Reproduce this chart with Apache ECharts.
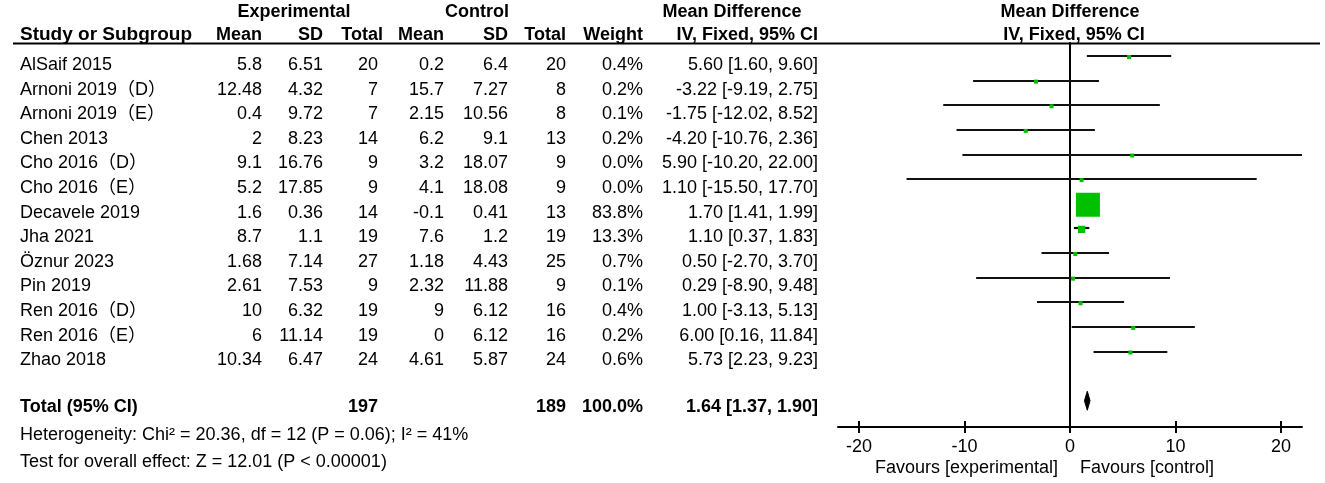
<!DOCTYPE html>
<html lang="en">
<head>
<meta charset="UTF-8">
<title>Forest plot - Mean Difference</title>
<script src="https://cdn.jsdelivr.net/npm/echarts@6/dist/echarts.min.js"></script>
<style>
    body { margin: 0; background: #fff; }
    #chart { width: 1325px; height: 483px; }
</style>
</head>
<body>
<div id="chart"></div>
<script>
// ---- data ----
const studies = ['AlSaif 2015', 'Arnoni 2019（D）', 'Arnoni 2019（E）', 'Chen 2013', 'Cho 2016（D）', 'Cho 2016（E）',
    'Decavele 2019', 'Jha 2021', 'Öznur 2023', 'Pin 2019', 'Ren 2016（D）', 'Ren 2016（E）', 'Zhao 2018'];
const expMean = [5.8, 12.48, 0.4, 2, 9.1, 5.2, 1.6, 8.7, 1.68, 2.61, 10, 6, 10.34];
const expSD   = [6.51, 4.32, 9.72, 8.23, 16.76, 17.85, 0.36, 1.1, 7.14, 7.53, 6.32, 11.14, 6.47];
const expN    = [20, 7, 7, 14, 9, 9, 14, 19, 27, 9, 19, 19, 24];
const ctlMean = [0.2, 15.7, 2.15, 6.2, 3.2, 4.1, -0.1, 7.6, 1.18, 2.32, 9, 0, 4.61];
const ctlSD   = [6.4, 7.27, 10.56, 9.1, 18.07, 18.08, 0.41, 1.2, 4.43, 11.88, 6.12, 6.12, 5.87];
const ctlN    = [20, 8, 8, 13, 9, 9, 13, 19, 25, 9, 16, 16, 24];
const weight  = [0.4, 0.2, 0.1, 0.2, 0.0, 0.0, 83.8, 13.3, 0.7, 0.1, 0.4, 0.2, 0.6];
const md      = [5.60, -3.22, -1.75, -4.20, 5.90, 1.10, 1.70, 1.10, 0.50, 0.29, 1.00, 6.00, 5.73];
const ciLow   = [1.60, -9.19, -12.02, -10.76, -10.20, -15.50, 1.41, 0.37, -2.70, -8.90, -3.13, 0.16, 2.23];
const ciHigh  = [9.60, 2.75, 8.52, 2.36, 22.00, 17.70, 1.99, 1.83, 3.70, 9.48, 5.13, 11.84, 9.23];

const totalExpN = 197, totalCtlN = 189, totalWeight = 100.0;
const totalMD = 1.64, totalLow = 1.37, totalHigh = 1.90;
const heterogeneity = 'Heterogeneity: Chi² = 20.36, df = 12 (P = 0.06); I² = 41%';
const overallEffect = 'Test for overall effect: Z = 12.01 (P < 0.00001)';
const xTicks = [-20, -10, 0, 10, 20];
const totalRow = 14;

// ---- layout ----
const FONT = '"Liberation Sans", Arial, "Noto Sans CJK SC", sans-serif';
const FS = 18;
const INK = '#000';
const colRight = [262, 323, 378, 444, 508, 566, 643, 818];
const rowY = i => 65 + 24.6 * i;

function txt(x, y, text, align, bold, size) {
    return {
        type: 'text', silent: true,
        style: {
            x: x, y: y, text: text, fill: INK,
            font: (bold ? 'bold ' : '') + (size || FS) + 'px ' + FONT,
            textAlign: align || 'left', textVerticalAlign: 'middle'
        }
    };
}

const graphics = [];
// header
graphics.push(txt(294, 12, 'Experimental', 'center', true));
graphics.push(txt(477, 12, 'Control', 'center', true));
graphics.push(txt(732, 12, 'Mean Difference', 'center', true));
graphics.push(txt(1070, 12, 'Mean Difference', 'center', true));
graphics.push(txt(1074, 35, 'IV, Fixed, 95% CI', 'center', true));
graphics.push(txt(20, 35, 'Study or Subgroup', 'left', true, 19));
['Mean', 'SD', 'Total', 'Mean', 'SD', 'Total', 'Weight', 'IV, Fixed, 95% CI'].forEach((h, k) => {
    graphics.push(txt(k === 2 ? 383 : colRight[k], 35, h, 'right', true));
});
graphics.push({ type: 'line', silent: true, shape: { x1: 13, y1: 43.5, x2: 1320, y2: 43.5 },
    style: { stroke: INK, lineWidth: 2 } });

// study rows
studies.forEach((s, i) => {
    const y = rowY(i);
    const cells = [expMean[i], expSD[i], expN[i], ctlMean[i], ctlSD[i], ctlN[i],
        weight[i].toFixed(1) + '%',
        md[i].toFixed(2) + ' [' + ciLow[i].toFixed(2) + ', ' + ciHigh[i].toFixed(2) + ']'];
    graphics.push(txt(20, y, s, 'left', false));
    cells.forEach((c, k) => graphics.push(txt(colRight[k], y, String(c), 'right', false)));
});

// total + footnotes
graphics.push(txt(20, 407, 'Total (95% CI)', 'left', true));
graphics.push(txt(colRight[2], 407, String(totalExpN), 'right', true));
graphics.push(txt(colRight[5], 407, String(totalCtlN), 'right', true));
graphics.push(txt(colRight[6], 407, totalWeight.toFixed(1) + '%', 'right', true));
graphics.push(txt(colRight[7], 407, totalMD.toFixed(2) + ' [' + totalLow.toFixed(2) + ', ' + totalHigh.toFixed(2) + ']', 'right', true));
graphics.push(txt(20, 435, heterogeneity, 'left', false));
graphics.push(txt(20, 462, overallEffect, 'left', false));
graphics.push(txt(1058, 468, 'Favours [experimental]', 'right', false));
graphics.push(txt(1080, 468, 'Favours [control]', 'left', false));

// marker size grows with weight, with a small floor
function boxSize(w) {
    return Math.max(4, 24 * Math.pow(w / 83.8, 0.65));
}

const studyData = studies.map((s, i) => [ciLow[i], ciHigh[i], md[i], weight[i], i]);

const chart = echarts.init(document.getElementById('chart'));
chart.setOption({
    animation: false,
    backgroundColor: '#fff',
    grid: { left: 838, right: 23, top: 43, bottom: 56 },
    xAxis: [{
        type: 'value', min: -22, max: 22, position: 'bottom',
        axisLine: { onZero: false, lineStyle: { color: INK, width: 2 } },
        axisTick: { show: true, customValues: xTicks, length: 6, lineStyle: { color: INK, width: 2 } },
        axisLabel: { customValues: xTicks, color: INK, fontSize: FS, fontFamily: FONT, margin: 11 },
        splitLine: { show: false }
    }, {
        type: 'value', min: -22, max: 22, position: 'bottom',
        axisLine: { show: false, onZero: false },
        axisTick: { show: true, inside: true, customValues: xTicks, length: 6, lineStyle: { color: INK, width: 2 } },
        axisLabel: { show: false },
        splitLine: { show: false }
    }],
    yAxis: {
        type: 'value', inverse: true, min: -0.528, max: 15.066,
        axisLine: { show: true, onZero: true, lineStyle: { color: INK, width: 2 } },
        axisTick: { show: false }, axisLabel: { show: false }, splitLine: { show: false }
    },
    graphic: graphics,
    series: [{
        type: 'custom',
        clip: true,
        data: studyData,
        renderItem: function (params, api) {
            const row = api.value(4);
            const a = api.coord([api.value(0), row]);
            const b = api.coord([api.value(1), row]);
            const c = api.coord([api.value(2), row]);
            const s = boxSize(api.value(3));
            return {
                type: 'group',
                children: [
                    { type: 'line', shape: { x1: a[0], y1: Math.round(a[1]), x2: b[0], y2: Math.round(b[1]) },
                      style: { stroke: '#111', lineWidth: 2.2 } },
                    { type: 'rect', shape: { x: c[0] - s / 2, y: c[1] - s / 2 + 1, width: s, height: s },
                      style: { fill: '#00c000' } }
                ]
            };
        }
    }, {
        type: 'custom',
        data: [[totalLow, totalHigh, totalMD, totalRow]],
        renderItem: function (params, api) {
            const row = api.value(3);
            const l = api.coord([api.value(0), row]);
            const r = api.coord([api.value(1), row]);
            const c = api.coord([api.value(2), row]);
            const h = 9.5;
            return {
                type: 'polygon',
                shape: { points: [[l[0], l[1]], [c[0], c[1] - h], [r[0], r[1]], [c[0], c[1] + h]] },
                style: { fill: INK, stroke: INK, lineWidth: 1 }
            };
        }
    }]
});
</script>
</body>
</html>
